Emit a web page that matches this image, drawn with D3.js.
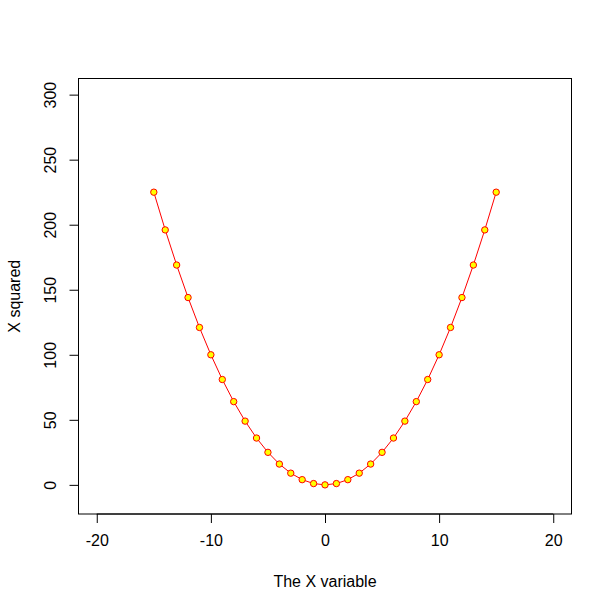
<!DOCTYPE html>
<html><head><meta charset="utf-8">
<script src="https://cdn.jsdelivr.net/npm/d3@7"></script>
<style>body{margin:0;background:#fff}svg{display:block}text{font-family:"Liberation Sans",Arial,sans-serif;}</style>
</head><body><div id="chart"></div>
<script>
const xValues = [-15,-14,-13,-12,-11,-10,-9,-8,-7,-6,-5,-4,-3,-2,-1,0,1,2,3,4,5,6,7,8,9,10,11,12,13,14,15];
const yValues = [225,196,169,144,121,100,81,64,49,36,25,16,9,4,1,0,1,4,9,16,25,36,49,64,81,100,121,144,169,196,225];
const xTicks = [-20,-10,0,10,20];
const yTicks = [0,50,100,150,200,250,300];
const xLabel = "The X variable";
const yLabel = "X squared";

const W = 612, H = 612;
const box = {left: 78.5, right: 571.5, top: 78.5, bottom: 514};
const svg = d3.select("#chart").append("svg").attr("width", W).attr("height", H);

// R-style 4% extended ranges: xlim c(-20,20), ylim c(-10,300)
const xs = d3.scaleLinear().domain([-21.6, 21.6]).range([box.left, box.right]);
const ys = d3.scaleLinear().domain([-22.4, 312.4]).range([box.bottom, box.top]);

svg.append("rect").attr("x", box.left).attr("y", box.top)
  .attr("width", box.right - box.left).attr("height", box.bottom - box.top)
  .attr("fill", "none").attr("stroke", "#000").attr("stroke-width", 1);

const xAxis = svg.append("g").attr("transform", `translate(0,${box.bottom})`)
  .call(d3.axisBottom(xs).tickValues(xTicks).tickSize(9).tickPadding(12).tickFormat(d => String(d)));
xAxis.select(".domain").attr("d", `M${xs(-20)},0H${xs(20)}`);
xAxis.selectAll("text").attr("font-size", 16).attr("font-family", '"Liberation Sans",Arial,sans-serif').attr("fill","#000");

const yAxis = svg.append("g").attr("transform", `translate(${box.left},0)`)
  .call(d3.axisLeft(ys).tickValues(yTicks).tickSize(9).tickFormat(d => String(d)));
yAxis.select(".domain").attr("d", `M0,${ys(0)}V${ys(300)}`);
yAxis.selectAll(".tick text")
  .attr("x", null).attr("dy", null)
  .attr("transform", "translate(-28,0) rotate(-90)")
  .attr("text-anchor", "middle").attr("dominant-baseline", "central")
  .attr("font-size", 16).attr("font-family", '"Liberation Sans",Arial,sans-serif').attr("fill","#000");

svg.selectAll(".domain, .tick line").attr("stroke", "#000");

const data = xValues.map((x, i) => ({x, y: yValues[i]}));
svg.append("path").datum(data)
  .attr("d", d3.line().x(d => xs(d.x)).y(d => ys(d.y)))
  .attr("fill", "none").attr("stroke", "red").attr("stroke-width", 1);

svg.selectAll("circle.pt").data(data).enter().append("circle")
  .attr("class", "pt")
  .attr("cx", d => xs(d.x)).attr("cy", d => ys(d.y)).attr("r", 3.2)
  .attr("fill", "yellow").attr("stroke", "red").attr("stroke-width", 1);

svg.append("text").attr("x", (box.left + box.right) / 2).attr("y", 581)
  .attr("text-anchor", "middle").attr("dominant-baseline", "central")
  .attr("font-size", 16).text(xLabel);
svg.append("text").attr("transform", `translate(14,${(box.top + box.bottom) / 2}) rotate(-90)`)
  .attr("text-anchor", "middle").attr("dominant-baseline", "central")
  .attr("font-size", 16).text(yLabel);
</script></body></html>
